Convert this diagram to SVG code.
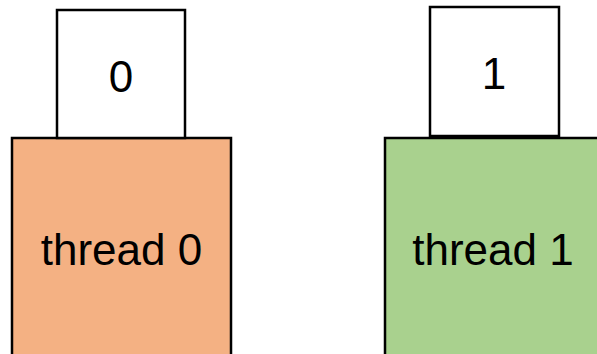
<svg xmlns="http://www.w3.org/2000/svg" width="597" height="354" viewBox="0 0 597 354">
<style>
rect{stroke:#000;stroke-width:2.5}
.box{fill:#fff}
.t0{fill:#F4B183}
.t1{fill:#A9D18E}
text{font-family:"Liberation Sans",Arial,sans-serif;font-size:44px;fill:#000;text-anchor:middle}
</style>
<rect width="597" height="354" fill="#fff" style="stroke:none"/>
<g id="thread0">
<rect class="t0" x="12" y="138" width="219" height="230"/>
<text x="121.5" y="265">thread 0</text>
</g>
<g id="val0">
<rect class="box" x="57" y="10" width="128" height="128"/>
<text x="121" y="92">0</text>
</g>
<g id="thread1">
<rect class="t1" x="385" y="138" width="230" height="230"/>
<text x="493" y="265">thread 1</text>
</g>
<g id="val1">
<rect class="box" x="430" y="7" width="129" height="129"/>
<text x="494" y="89">1</text>
</g>
<g id="connectors"></g>
</svg>
